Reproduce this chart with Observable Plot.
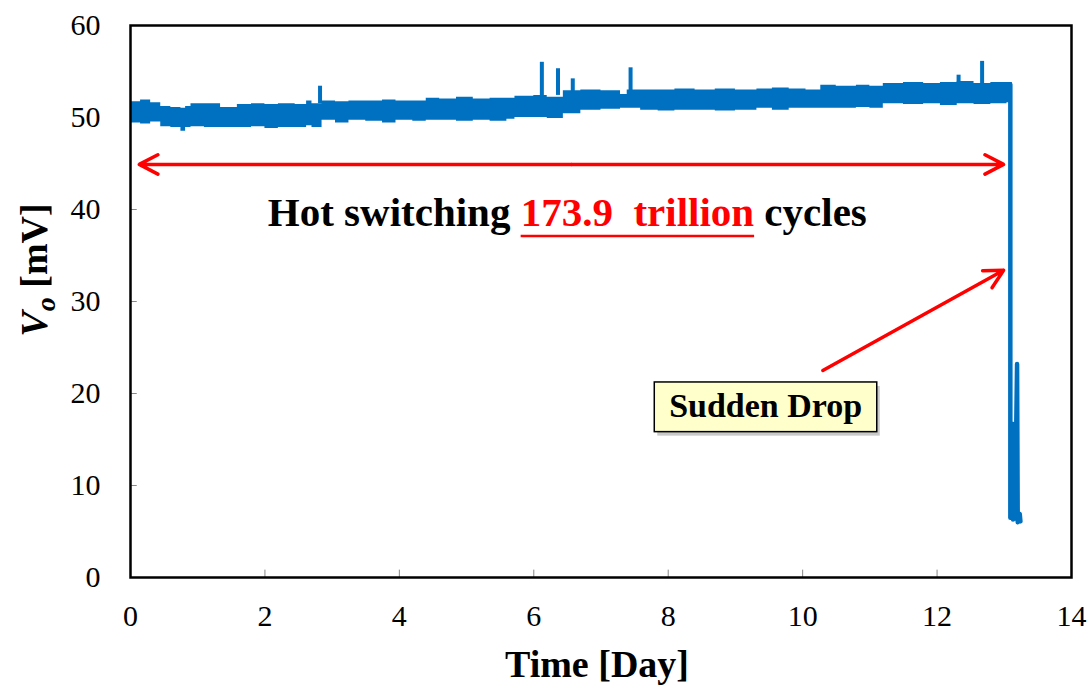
<!DOCTYPE html>
<html><head><meta charset="utf-8">
<script src="https://cdn.jsdelivr.net/npm/d3@7"></script>
<script src="https://cdn.jsdelivr.net/npm/@observablehq/plot@0.6"></script>
<style>body{margin:0;background:#fff} svg{display:block}</style>
</head><body><div id="chart"></div>
<script>
const xTicks = [0, 2, 4, 6, 8, 10, 12, 14];
const yTicks = [0, 10, 20, 30, 40, 50, 60];

// noisy band of V_o (min / max envelope) over time
const bandDay  = [0.00,0.15,0.30,0.45,0.60,0.75,0.82,0.90,1.10,1.34,1.59,1.80,2.00,2.20,2.45,2.62,2.70,2.85,3.05,3.25,3.50,3.75,3.95,4.20,4.40,4.60,4.85,5.10,5.35,5.60,5.72,6.00,6.20,6.44,6.70,7.00,7.29,7.39,7.59,7.85,8.10,8.40,8.70,9.00,9.32,9.55,9.80,10.05,10.27,10.50,10.80,11.00,11.20,11.50,11.80,12.05,12.30,12.55,12.80,13.04,13.12];
const bandLow  = [49.4,49.3,49.5,49.0,48.9,48.5,48.9,49.0,48.9,48.9,48.9,49.0,48.8,48.9,48.9,49.1,48.9,49.7,49.4,49.7,49.6,49.4,49.7,49.6,49.7,49.7,49.6,49.7,49.6,49.8,50.0,50.0,49.9,50.4,50.8,50.9,51.0,51.0,50.8,50.7,50.8,50.8,50.7,50.8,51.0,50.8,51.0,51.0,51.0,51.0,51.1,51.0,51.5,51.4,51.5,51.3,51.5,51.4,51.5,51.6,51.6];
const bandHigh = [51.7,51.9,51.6,51.2,51.1,51.0,51.2,51.5,51.5,51.1,51.4,51.5,51.4,51.5,51.4,51.8,51.5,51.8,51.7,51.8,51.8,51.9,51.8,51.8,52.1,52.0,52.2,52.0,52.1,52.1,52.3,52.4,52.2,52.9,53.0,52.9,52.5,53.0,53.0,53.0,53.1,53.0,53.1,53.0,53.1,53.2,53.1,53.0,53.5,53.4,53.5,53.4,53.7,53.8,53.7,53.8,53.9,53.7,53.8,53.8,53.8];

// short spikes above the band
const spikeDay  = [2.82, 6.12, 6.36, 6.58, 7.44, 12.32, 12.67];
const spikeBase = [51.5, 52.2, 52.4, 52.6, 52.8, 53.6, 53.6];
const spikeTop  = [53.4, 56.0, 55.3, 54.2, 55.4, 54.6, 56.1];

// sudden drop at the end
const dropDay = [13.09, 13.09, 13.12, 13.13, 13.15, 13.16, 13.19, 13.20, 13.23, 13.24];
const dropV   = [53.6, 6.5, 16.7, 6.3, 16.5, 6.4, 23.2, 6.0, 6.9, 6.1];

const xTitle = "Time [Day]";
const yTitleMain = "V", yTitleSub = "o", yTitleUnit = " [mV]";
const note1 = "Hot switching ", note2 = "173.9  trillion", note3 = " cycles";
const boxLabel = "Sudden Drop";

const serif = "'Liberation Serif','Times New Roman',serif";
const blue = "#0070C0", red = "#FF0000";

const band = bandDay.map((d, i) => ({day: d, lo: bandLow[i], hi: bandHigh[i]}));
const spikes = spikeDay.map((d, i) => ({day: d, base: spikeBase[i], top: spikeTop[i]}));
const drop = dropDay.map((d, i) => ({day: d, v: dropV[i]}));

// annotation anchors (data units)
const dblArrow = {x1: 0.13, x2: 12.99, y: 44.9};
const dropArrow = {x1: 10.30, y1: 22.5, x2: 12.99, y2: 33.4};
const box = {x1: 7.80, x2: 11.11, y1: 15.8, y2: 21.2, tx: 9.45, ty: 17.4};
const noteAt = {x: 2.05, y: 38.15};

const plot = Plot.plot({
  width: 1089, height: 686,
  marginLeft: 130, marginRight: 18, marginTop: 25, marginBottom: 109,
  x: {domain: [0, 14]},
  y: {domain: [0, 60]},
  style: {fontFamily: serif, background: "#fff", color: "#000"},
  marks: [
    Plot.ruleX(xTicks, {x: d => d, y1: 0, y2: 0.8, stroke: "#888", strokeWidth: 1}),
    Plot.ruleY(yTicks, {y: d => d, x1: 0, x2: 0.1, stroke: "#888", strokeWidth: 1}),
    Plot.areaY(band, {x: "day", y1: "lo", y2: "hi", fill: blue, curve: "step-after"}),
    Plot.ruleX(spikes, {x: "day", y1: "base", y2: "top", stroke: blue, strokeWidth: 4}),
    Plot.line(drop, {x: "day", y: "v", stroke: blue, strokeWidth: 4.5, strokeLinejoin: "round"}),
    Plot.arrow([dblArrow], {x1: d => (d.x1 + d.x2) / 2, x2: "x1", y1: "y", y2: "y", stroke: red, strokeWidth: 3.5, headLength: 9, headAngle: 55}),
    Plot.arrow([dblArrow], {x1: d => (d.x1 + d.x2) / 2, x2: "x2", y1: "y", y2: "y", stroke: red, strokeWidth: 3.5, headLength: 9, headAngle: 55}),
    Plot.arrow([dropArrow], {x1: "x1", y1: "y1", x2: "x2", y2: "y2", stroke: red, strokeWidth: 3.5, headLength: 9, headAngle: 55}),
    Plot.rect([box], {x1: "x1", x2: "x2", y1: "y1", y2: "y2", fill: "#888", fillOpacity: 0.45, dx: 3, dy: 4}),
    Plot.rect([box], {x1: "x1", x2: "x2", y1: "y1", y2: "y2", fill: "#FFFFCC", stroke: "#000", strokeWidth: 1.5}),
    Plot.text([box], {x: "tx", y: "ty", text: () => boxLabel, fontSize: 34, fontWeight: "bold", fill: "#000", lineAnchor: "bottom", textAnchor: "middle", fontFamily: serif}),
    Plot.frame({stroke: "#000", strokeWidth: 2.5}),
    Plot.axisX(xTicks, {tickSize: 0, tickPadding: 27, fontSize: 30, label: null, fontFamily: serif}),
    Plot.axisY(yTicks, {tickSize: 0, tickPadding: 30, fontSize: 30, label: null, fontFamily: serif}),
    Plot.text([xTitle], {frameAnchor: "bottom", dy: 99, dx: -4, text: d => d, fontSize: 38, fontWeight: "bold", lineAnchor: "bottom", fontFamily: serif})
  ]
});

document.getElementById("chart").appendChild(plot);

const svg = d3.select(plot);
const sx = plot.scale("x"), sy = plot.scale("y");
const nx = sx.apply(noteAt.x), ny = sy.apply(noteAt.y);

// note with a red underlined number
const t = svg.append("text")
  .attr("x", nx).attr("y", ny)
  .attr("text-anchor", "start")
  .attr("font-family", serif).attr("font-size", 41).attr("font-weight", "bold")
  .style("white-space", "pre").attr("xml:space", "preserve");
const s1 = t.append("tspan").attr("fill", "#000").text(note1);
const s2 = t.append("tspan").attr("fill", red).text(note2);
t.append("tspan").attr("fill", "#000").text(note3);
const w1 = s1.node().getComputedTextLength();
const w2 = s2.node().getComputedTextLength();
svg.append("line")
  .attr("x1", nx + w1).attr("x2", nx + w1 + w2)
  .attr("y1", ny + 10).attr("y2", ny + 10)
  .attr("stroke", red).attr("stroke-width", 2.5);

// y-axis title with subscript
const yt = svg.append("text")
  .attr("transform", "translate(47,270) rotate(-90)")
  .attr("text-anchor", "middle")
  .attr("font-family", serif).attr("font-size", 38).attr("font-weight", "bold")
  .style("white-space", "pre");
yt.append("tspan").attr("font-style", "italic").text(yTitleMain);
yt.append("tspan").attr("font-style", "italic").attr("font-size", 28).attr("dy", 8).text(yTitleSub);
yt.append("tspan").attr("dy", -8).text(yTitleUnit);
</script>
</body></html>
